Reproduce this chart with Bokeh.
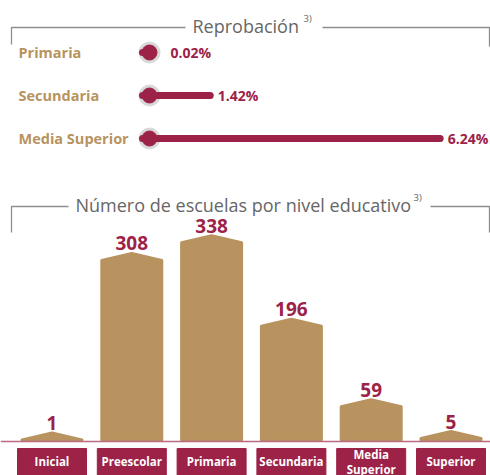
from bokeh.plotting import figure
from bokeh.layouts import column
from bokeh.models import ColumnDataSource, Range1d, Span
from bokeh.core.properties import value
from bokeh.embed import file_html
from bokeh.resources import INLINE

# ---------------- data ----------------
rep_title = "Reprobación"
rep_levels = ["Primaria", "Secundaria", "Media Superior"]
rep_values = [0.02, 1.42, 6.24]
rep_labels = ["0.02%", "1.42%", "6.24%"]

esc_title = "Número de escuelas por nivel educativo"
esc_levels = ["Inicial", "Preescolar", "Primaria", "Secundaria", "Media\nSuperior", "Superior"]
esc_values = [1, 308, 338, 196, 59, 5]
note = "3)"

# ---------------- style ----------------
CRIMSON = "#9d2248"
TAN = "#b8935f"
FRAME = "#8e8e8e"
TITLE_GRAY = "#666666"
HALO = "#d9d9d9"
FONT = value("Open Sans")

OX, OY = 0, 0            # page offset of the layout
W = 490
H_TOP = 180
H_BOT = 295


def base_fig(h, xr, yr):
    p = figure(width=W, height=h, x_range=xr, y_range=yr,
               output_backend="svg", toolbar_location=None, min_border=0)
    p.axis.visible = False
    p.grid.visible = False
    p.outline_line_color = None
    p.background_fill_color = "white"
    p.border_fill_color = "white"
    return p


# ================= top: Reprobación =================
KX, X0 = 47.7, 142.0      # px per unit, page x of zero
KY, Y0 = 43.0, 52.0       # px per row, page y of first row
top = base_fig(H_TOP,
               Range1d((OX - X0) / KX, (OX + W - X0) / KX),
               Range1d((OY + H_TOP - Y0) / KY, (OY - Y0) / KY))
tx = lambda px: (px - X0) / KX
ty = lambda py: (py - Y0) / KY

rows = list(range(len(rep_levels)))
src = ColumnDataSource(dict(
    row=rows, level=rep_levels, val=rep_values, lab=rep_labels,
    zero=[0] * len(rows),
    start=[tx(149)] * len(rows),
    labx=[max(v + 3.5 / KX, tx(166)) + 4 / KX for v in rep_values],
    namex=[tx(18)] * len(rows),
))

top.scatter(x="start", y="row", size=21, color=HALO, source=src)
top.segment(x0="zero", y0="row", x1="val", y1="row", line_width=7,
            line_cap="round", color=CRIMSON, source=src)
top.scatter(x="start", y="row", size=15, color=CRIMSON, source=src)
top.text(x="labx", y="row", text="lab", text_font=FONT, text_font_style="bold",
         text_font_size="14px", text_color=CRIMSON, text_baseline="middle",
         text_align="left", source=src)
top.text(x="namex", y="row", text="level", text_font=FONT, text_font_style="bold",
         text_font_size="14.5px", text_color=TAN, text_baseline="middle",
         text_align="left", source=src)

top.multi_line(xs=[[tx(11), tx(11), tx(185)], [tx(322), tx(489), tx(489)]],
               ys=[[ty(44), ty(27), ty(27)], [ty(27), ty(27), ty(46)]],
               line_color=FRAME, line_width=1.3)
top.text(x=[tx(192)], y=[ty(25)], text=[rep_title], text_font=FONT,
         text_font_size="18px", text_color=TITLE_GRAY, text_baseline="middle",
         text_align="left")
top.text(x=[tx(303)], y=[ty(18)], text=[note], text_font=FONT,
         text_font_size="9.5px", text_color=TITLE_GRAY, text_baseline="middle",
         text_align="left")

# ================= bottom: Número de escuelas =================
KXB, XC0 = 79.8, 51.5     # px per category, page x of first centre
KV, YB = 0.588, 441.0     # px per school, page y of baseline
PT = OY + H_TOP
bot = base_fig(H_BOT,
               Range1d((OX - XC0) / KXB, (OX + W - XC0) / KXB),
               Range1d((YB - (PT + H_BOT)) / KV, (YB - PT) / KV))
bx = lambda px: (px - XC0) / KXB
by = lambda py: (YB - py) / KV

idx = list(range(len(esc_levels)))
half = 30.0 / KXB
roof = 7.0 / KV
foot = 1.5 / KV
xs, ys = [], []
for i, v in zip(idx, esc_values):
    s = max(v, foot)
    xs.append([i - half, i - half, i, i + half, i + half])
    ys.append([foot, s, s + roof, s, foot])
bot.patches(xs=xs, ys=ys, fill_color=TAN, line_color=TAN, line_width=3,
            line_join="round")

bsrc = ColumnDataSource(dict(
    x=idx, val=esc_values, lab=[str(v) for v in esc_values], level=esc_levels,
    laby=[max(v, foot) + roof + 3 / KV for v in esc_values],
    left=[i - 34.5 / KXB for i in idx], right=[i + 34.5 / KXB for i in idx],
    boxtop=[by(448)] * len(idx), boxbot=[by(485)] * len(idx),
    namey=[by(461)] * len(idx),
))
bot.text(x="x", y="laby", text="lab", text_font=FONT, text_font_style="bold",
         text_font_size="19px", text_color=CRIMSON, text_align="center",
         text_baseline="bottom", source=bsrc)
bot.add_layout(Span(location=0, dimension="width", line_color="#b86a80",
                    line_width=1.5))
bot.quad(left="left", right="right", top="boxtop", bottom="boxbot",
         color=CRIMSON, source=bsrc)
bot.text(x="x", y="namey", text="level", text_font=FONT, text_font_style="bold",
         text_font_size="11.5px", text_color="white", text_align="center",
         text_baseline="middle", text_line_height=1.0, source=bsrc)

bot.multi_line(xs=[[bx(11), bx(11), bx(68)], [bx(430), bx(489), bx(489)]],
               ys=[[by(232), by(206), by(206)], [by(206), by(206), by(232)]],
               line_color=FRAME, line_width=1.3)
bot.text(x=[bx(75)], y=[by(204)], text=[esc_title], text_font=FONT,
         text_font_size="18px", text_color=TITLE_GRAY, text_baseline="middle",
         text_align="left")
bot.text(x=[bx(413)], y=[by(197)], text=[note], text_font=FONT,
         text_font_size="9.5px", text_color=TITLE_GRAY, text_baseline="middle",
         text_align="left")

layout = column(top, bot, spacing=0)
open("out.html", "w").write(file_html(layout, INLINE))
